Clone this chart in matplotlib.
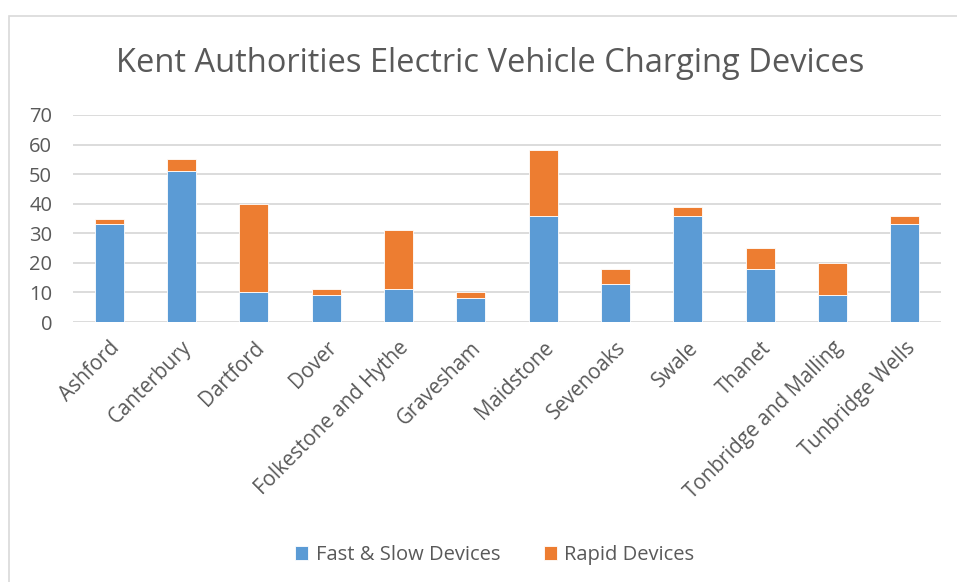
import matplotlib
matplotlib.use("Agg")
import matplotlib.pyplot as plt
from matplotlib.patches import Rectangle
import numpy as np

categories = ["Ashford", "Canterbury", "Dartford", "Dover", "Folkestone and Hythe",
              "Gravesham", "Maidstone", "Sevenoaks", "Swale", "Thanet",
              "Tonbridge and Malling", "Tunbridge Wells"]
fast_slow = [33, 51, 10, 9, 11, 8, 36, 13, 36, 18, 9, 33]
rapid = [2, 4, 30, 2, 20, 2, 22, 5, 3, 7, 11, 3]
yticks = [0, 10, 20, 30, 40, 50, 60, 70]

plt.rcParams['font.family'] = ['Open Sans', 'DejaVu Sans']
text_col = '#595959'

fig = plt.figure(figsize=(9.57, 5.82), dpi=100)
W, H = 957, 582
ax = fig.add_axes([73 / W, 1 - 322 / H, (941 - 73) / W, (322 - 115) / H])

x = np.arange(len(categories))
ax.bar(x, fast_slow, width=0.4, color='#5B9BD5', edgecolor='white', linewidth=0.6,
       label='Fast & Slow Devices', zorder=3)
ax.bar(x, rapid, bottom=fast_slow, width=0.4, color='#ED7D31', edgecolor='white',
       linewidth=0.6, label='Rapid Devices', zorder=3)

ax.set_xlim(-0.5, len(categories) - 0.5)
ax.set_ylim(0, 70)
ax.set_yticks(yticks)
ax.yaxis.grid(True, color='#D9D9D9', linewidth=1.3, zorder=0)
for s in ax.spines.values():
    s.set_visible(False)
ax.tick_params(axis='both', length=0, colors=text_col, labelsize=14.5)
ax.tick_params(axis='y', pad=15)
ax.set_xticks(x)
ax.set_xticklabels(categories, rotation=45, ha='right', va='top', rotation_mode='anchor',
                   fontsize=14.8, color=text_col)
ax.tick_params(axis='x', pad=11)

fig.text(490 / W, 1 - 64 / H, 'Kent Authorities Electric Vehicle Charging Devices',
         ha='center', va='center', fontsize=23.5, color=text_col)

leg = fig.legend(loc='center', bbox_to_anchor=(495 / W, 1 - 555 / H), ncol=2,
                 frameon=False, fontsize=14.5, handlelength=0.65, handleheight=0.65,
                 columnspacing=2.2, handletextpad=0.35)
for t in leg.get_texts():
    t.set_color(text_col)

fig.patches.append(Rectangle((9 / W, -0.1), 1.2, 1 - 16 / H + 0.1,
                             transform=fig.transFigure, fill=False,
                             edgecolor='#D9D9D9', linewidth=1.2))

fig.savefig('out.png', dpi=100, facecolor='white')
